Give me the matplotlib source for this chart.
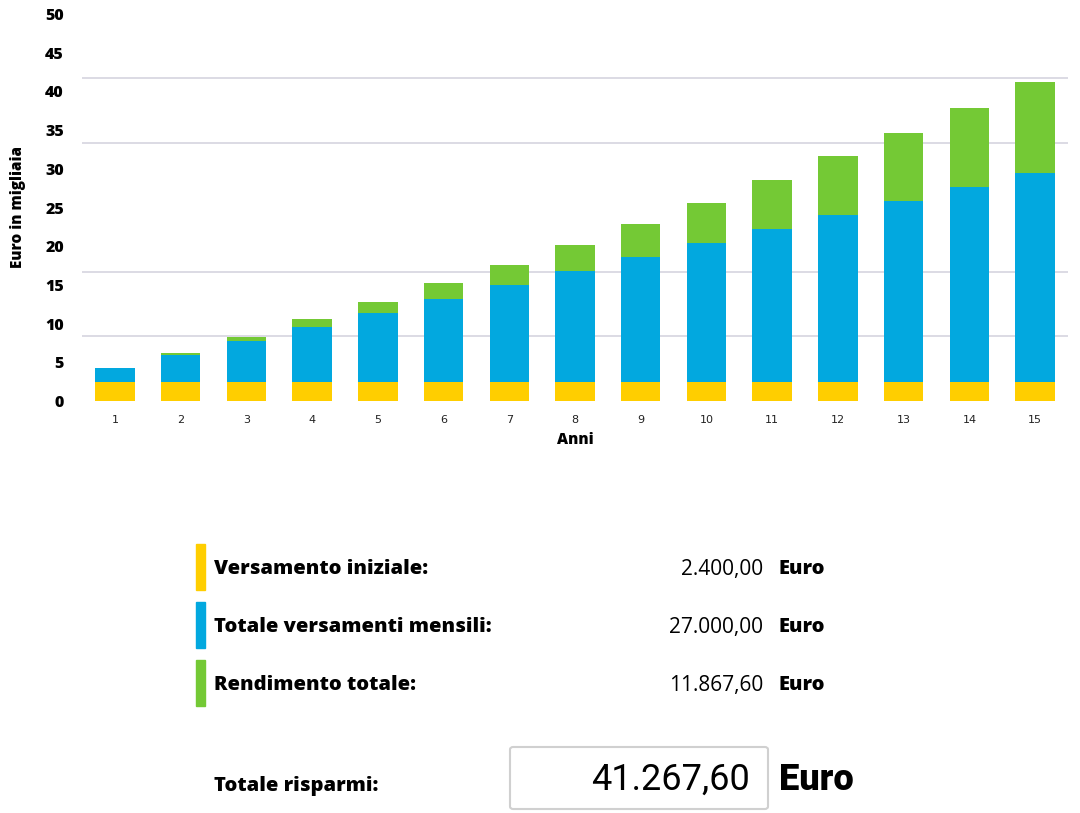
import matplotlib
matplotlib.use("Agg")
import matplotlib.pyplot as plt
from matplotlib.patches import Rectangle, FancyBboxPatch
import numpy as np

years = list(range(1, 16))
initial = [2.4] * 15
monthly = [1.8, 3.6, 5.4, 7.2, 9.0, 10.8, 12.6, 14.4, 16.2, 18.0, 19.8, 21.6, 23.4, 25.2, 27.0]
returns = [0.05, 0.2, 0.5, 0.95, 1.45, 2.0, 2.6, 3.4, 4.3, 5.2, 6.35, 7.6, 8.8, 10.3, 11.87]
ytick_vals = [0, 5, 10, 15, 20, 25, 30, 35, 40, 45, 50]

legend_labels = ["Versamento iniziale:", "Totale versamenti mensili:", "Rendimento totale:"]
legend_values = ["2.400,00", "27.000,00", "11.867,60"]
total_label = "Totale risparmi:"
total_value = "41.267,60"

YELLOW = "#FFCE00"
BLUE = "#02A8DF"
GREEN = "#74C935"
GRID = "#D9D8E2"

HEAVY = ["Roboto", "DejaVu Sans"]
WIDE = ["Open Sans", "DejaVu Sans"]

fig = plt.figure(figsize=(10.8, 8.13), dpi=100)
ax = fig.add_axes([82/1080, 1 - 401/813, (1068-82)/1080, (401-14)/813])

x = np.array(years)
w = 0.6
ax.bar(x, initial, width=w, color=YELLOW, zorder=3)
ax.bar(x, monthly, width=w, bottom=initial, color=BLUE, zorder=3)
ax.bar(x, returns, width=w, bottom=np.array(initial) + np.array(monthly), color=GREEN, zorder=3)

ax.set_xlim(0.5, 15.5)
ax.set_ylim(0, 50)
ax.set_yticks(ytick_vals)
ax.set_yticklabels([str(v) for v in ytick_vals], fontfamily=WIDE, fontweight=800, fontsize=11.5)
ax.set_yticks([50/6*i for i in range(7)], minor=True)
ax.yaxis.grid(True, which="minor", color=GRID, linewidth=1.3, zorder=0)
ax.tick_params(axis="y", which="both", length=0, pad=13)
ax.set_xticks(years)
ax.set_xticklabels([str(v) for v in years], fontfamily="DejaVu Sans", fontsize=8, color="#222222")
ax.tick_params(axis="x", length=0, pad=10)
for s in ax.spines.values():
    s.set_visible(False)

ax.set_ylabel("Euro in migliaia", fontfamily=WIDE, fontweight=800, fontsize=11, labelpad=14)
ax.set_xlabel("Anni", fontfamily=WIDE, fontweight=800, fontsize=11, labelpad=5)

# Legend / summary section
colors = [YELLOW, BLUE, GREEN]
ys = [568, 626, 684]
for lab, val, col, yc in zip(legend_labels, legend_values, colors, ys):
    fig.patches.append(Rectangle((196/1080, 1 - (yc+22)/813), 9/1080, 46/813,
                                 transform=fig.transFigure, color=col))
    fig.text(214/1080, 1 - (yc+1)/813, lab, fontfamily=WIDE, fontweight=800,
             fontsize=14.5, va="center", ha="left", color="#000000")
    fig.text(763/1080, 1 - (yc+1)/813, val, fontfamily=WIDE, fontweight="normal",
             fontsize=15, va="center", ha="right", color="#000000")
    fig.text(779/1080, 1 - (yc+1)/813, "Euro", fontfamily=WIDE, fontweight=800,
             fontsize=14.5, va="center", ha="left", color="#000000")

fig.patches.append(FancyBboxPatch((510/1080, 1 - 809/813), 258/1080, 62/813,
                                  boxstyle="round,pad=0,rounding_size=0.003",
                                  transform=fig.transFigure, facecolor="white",
                                  edgecolor="#D0D0D0", linewidth=1.5))
fig.text(214/1080, 1 - 786/813, total_label, fontfamily=WIDE, fontweight=800,
         fontsize=14.5, va="center", ha="left", color="#000000")
fig.text(750/1080, 1 - 780/813, total_value, fontfamily="Roboto", fontweight="normal",
         fontsize=26, va="center", ha="right", color="#000000")
fig.text(779/1080, 1 - 780/813, "Euro", fontfamily=HEAVY, fontweight="black",
         fontsize=26, va="center", ha="left", color="#000000")

fig.savefig("out.png", dpi=100)
